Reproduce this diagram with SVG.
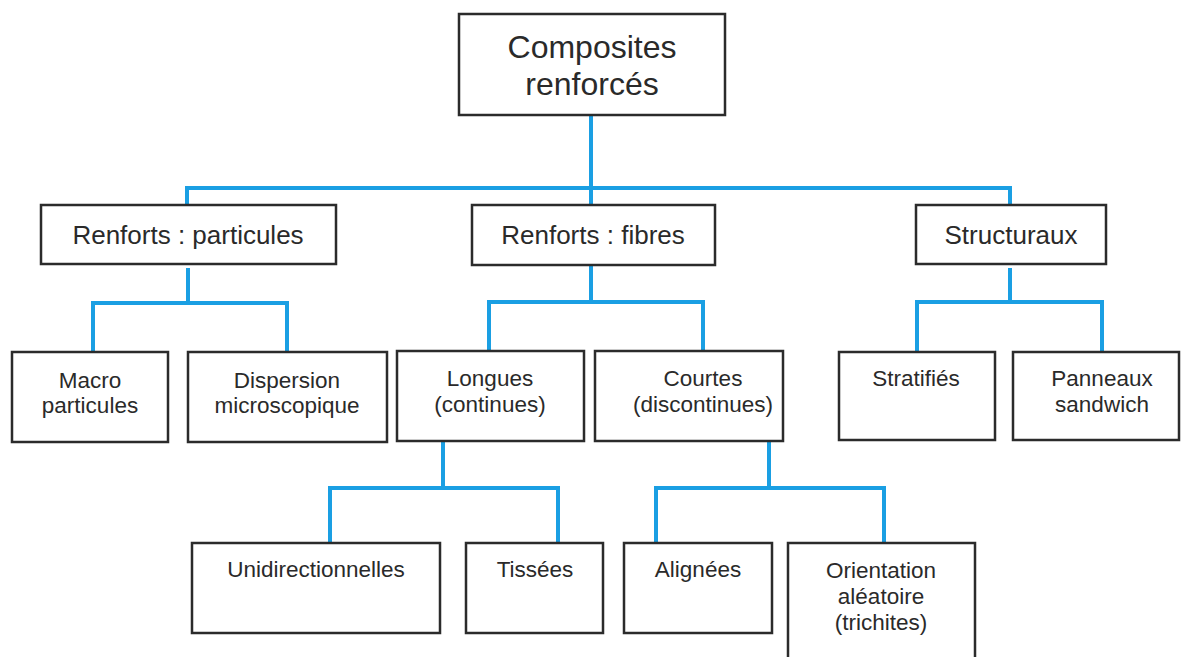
<svg xmlns="http://www.w3.org/2000/svg" width="1181" height="657" viewBox="0 0 1181 657">
<style>
.box{fill:#ffffff;stroke:#2b2b2b;stroke-width:2.5}
.con{fill:none;stroke:#1a9fe3;stroke-width:4;stroke-linecap:butt;stroke-linejoin:miter}
text{font-family:"Liberation Sans",Arial,sans-serif;fill:#2a2a2a;text-anchor:middle}
.t1{font-size:32px}
.t2{font-size:26px}
.t3{font-size:22.5px}
</style>
<rect width="1181" height="657" fill="#ffffff"/>
<g id="connectors">
<path class="con" d="M591,115 V205"/>
<path class="con" d="M187,205 V188 H1010 V205"/>
<path class="con" d="M188,268 V303"/>
<path class="con" d="M93,352 V303 H287 V352"/>
<path class="con" d="M591,265 V302"/>
<path class="con" d="M489,351 V302 H703 V351"/>
<path class="con" d="M1010,268 V302"/>
<path class="con" d="M917,352 V302 H1102 V352"/>
<path class="con" d="M443,441 V488"/>
<path class="con" d="M330,543 V488 H558 V543"/>
<path class="con" d="M769,441 V488"/>
<path class="con" d="M656,543 V488 H884 V543"/>
</g>
<g id="root">
<rect class="box" x="459" y="14" width="266" height="101"/>
<text class="t1" x="592" y="58">Composites</text>
<text class="t1" x="592" y="95">renforcés</text>
</g>
<g id="particules">
<rect class="box" x="41" y="205" width="295" height="59"/>
<text class="t2" x="188" y="244">Renforts : particules</text>
</g>
<g id="fibres">
<rect class="box" x="472" y="205" width="243" height="60"/>
<text class="t2" x="593" y="244">Renforts : fibres</text>
</g>
<g id="structuraux">
<rect class="box" x="916" y="205" width="190" height="59"/>
<text class="t2" x="1011" y="244">Structuraux</text>
</g>
<g id="macro">
<rect class="box" x="12" y="352" width="156" height="90"/>
<text class="t3" x="90" y="388">Macro</text>
<text class="t3" x="90" y="413">particules</text>
</g>
<g id="dispersion">
<rect class="box" x="188" y="352" width="199" height="90"/>
<text class="t3" x="287" y="388">Dispersion</text>
<text class="t3" x="287" y="413">microscopique</text>
</g>
<g id="longues">
<rect class="box" x="397" y="351" width="187" height="90"/>
<text class="t3" x="490" y="386">Longues</text>
<text class="t3" x="490" y="412">(continues)</text>
</g>
<g id="courtes">
<rect class="box" x="595" y="351" width="188" height="90"/>
<text class="t3" x="703" y="386">Courtes</text>
<text class="t3" x="703" y="412">(discontinues)</text>
</g>
<g id="stratifies">
<rect class="box" x="839" y="352" width="156" height="88"/>
<text class="t3" x="916" y="386">Stratifiés</text>
</g>
<g id="panneaux">
<rect class="box" x="1013" y="352" width="166" height="88"/>
<text class="t3" x="1102" y="386">Panneaux</text>
<text class="t3" x="1102" y="412">sandwich</text>
</g>
<g id="unidirectionnelles">
<rect class="box" x="192" y="543" width="248" height="90"/>
<text class="t3" x="316" y="577">Unidirectionnelles</text>
</g>
<g id="tissees">
<rect class="box" x="466" y="543" width="137" height="90"/>
<text class="t3" x="535" y="577">Tissées</text>
</g>
<g id="alignees">
<rect class="box" x="624" y="543" width="148" height="90"/>
<text class="t3" x="698" y="577">Alignées</text>
</g>
<g id="orientation">
<rect class="box" x="788" y="543" width="187" height="130"/>
<text class="t3" x="881" y="578">Orientation</text>
<text class="t3" x="881" y="604">aléatoire</text>
<text class="t3" x="881" y="630">(trichites)</text>
</g>
</svg>
